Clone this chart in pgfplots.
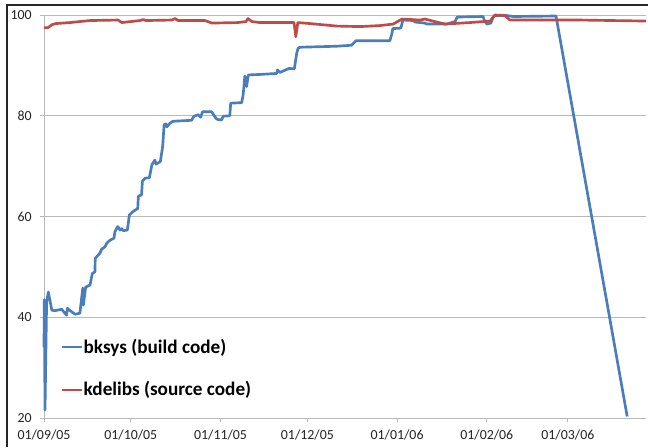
\documentclass[border=0pt]{standalone}
\usepackage{fontspec}
\setmainfont{Carlito}
\usepackage{pgfplots}
\pgfplotsset{compat=1.18}
\usepackage{pgfplotstable}
\definecolor{bluel}{RGB}{74,126,187}
\definecolor{redl}{RGB}{190,75,72}
\definecolor{gridc}{RGB}{185,185,185}
\definecolor{labc}{RGB}{35,35,35}

\pgfplotstableread{
d v
0.0 34
0.1 43.5
0.35 21.6
0.9 43
1.5 45
2.7 41.4
3.8 41.3
6.1 41.6
7.8 40.4
8.1 41.8
8.6 41.5
10.7 40.6
12.4 40.8
13.4 45.8
13.6 42.4
14.4 46
15.9 46.4
16.7 48.7
17.6 49
17.7 51.7
19.3 52.7
19.9 53.5
21.1 54
21.7 54.7
22.8 55.3
24.2 55.7
24.5 57
25.5 58
26.3 57.3
26.8 57.6
27.4 57.2
28.8 57.3
29.5 60.3
30.8 61
32.4 61.6
32.6 64
33.7 64.3
34.0 67
34.9 67.6
36.4 67.7
37.3 70.3
38.3 71.2
38.7 70.4
40.2 70.9
41.0 73.9
41.5 78.2
42.1 78.4
42.4 77.8
43.3 78.4
44.5 78.9
51.0 79.1
51.8 79.9
53.3 80.2
54.1 79.7
54.8 80.8
57.9 80.8
59.4 79.5
60.2 79.2
61.4 79.2
61.9 79.9
64.2 80
64.5 82.5
68.3 82.6
68.8 84.1
69.4 87.9
70.0 85.8
70.6 88.1
74.6 88.2
80.4 88.4
80.7 89.1
81.5 88.6
84.7 89.4
86.5 89.3
87.3 92.4
87.8 93.4
88.4 93.6
101.1 93.8
106.3 94
107.8 94.9
119.5 94.9
120.2 96.3
120.5 97.3
123.3 97.4
124.0 99
127.6 98.9
128.2 98.6
131.6 98.4
132.2 98.2
139.1 98.2
142.0 98.7
142.8 99.6
151.7 99.7
152.3 98.7
153.1 98.2
154.4 98.4
155.2 99.6
155.8 99.9
159.8 99.9
162.1 99.7
176.9 99.8
201.5 20.3
}\bksys

\pgfplotstableread{
d v
0.0 97.5
1.4 97.5
2.8 98.1
4.1 98.3
9.0 98.5
15.9 98.9
25.6 99.0
26.9 98.5
33.2 98.9
34.2 99.1
35.2 98.9
44.2 99.0
45.3 99.3
46.3 98.9
55.6 98.9
58.0 98.4
67.0 98.5
69.8 98.7
70.5 99.3
71.8 98.7
74.6 98.5
86.4 98.5
87.0 95.7
87.7 98.5
91.9 98.3
101.2 97.8
109.2 97.7
116.0 97.9
120.6 98.2
123.7 99.2
130.0 99.0
131.6 99.2
138.5 98.2
147.2 98.5
154.1 98.8
155.8 100.0
159.2 99.9
161.0 99.0
185.0 99.0
208.0 98.8
}\kdelibs

\begin{document}
\begin{tikzpicture}
\begin{axis}[
  at={(0pt,0pt)}, anchor=south west,
  scale only axis, width=451.5pt, height=302.25pt,
  xmin=0, xmax=208, ymin=20, ymax=100,
  clip=false,
  axis x line*=bottom, axis y line*=left,
  axis line style={gridc, line width=0.75pt},
  xtick={0,30,61,91,122,153,181},
  xticklabels={01/09/05,01/10/05,01/11/05,01/12/05,01/01/06,01/02/06,01/03/06},
  ytick={20,40,60,80,100},
  ymajorgrids, grid style={gridc, line width=0.75pt},
  tick style={gridc, line width=0.75pt},
  tick align=outside, major tick length=3pt,
  /pgf/number format/assume math mode=true,
  ticklabel style={font=\fontsize{10.4}{12}\selectfont, text=labc},
  xticklabel style={anchor=north, inner sep=0pt, yshift=-6pt},
  yticklabel style={anchor=east, inner sep=0pt, xshift=-6pt},
  legend style={at={(axis cs:4.4,36.3)}, anchor=north west, draw=none, fill=none,
    font=\bfseries\fontsize{14.4}{17}\selectfont, text=black,
    row sep=20pt, nodes={inner sep=0pt}},
  legend cell align=left,
  legend image code/.code={\draw[#1] (0pt,0pt) -- (15pt,0pt);},
]
\addplot[bluel, line width=2pt, line join=round] table[x=d,y=v] {\bksys};
\addlegendentry{bksys (build code)}
\addplot[redl, line width=2pt, line join=round] table[x=d,y=v] {\kdelibs};
\addlegendentry{kdelibs (source code)}
\end{axis}
\draw[line width=1.5pt, black!85] (-27.75pt,-21.75pt) -- (-27.75pt,309.75pt) -- (453pt,309.75pt);
\pgfresetboundingbox
\useasboundingbox (-33pt,-21.75pt) rectangle (453pt,313.5pt);
\end{tikzpicture}
\end{document}
